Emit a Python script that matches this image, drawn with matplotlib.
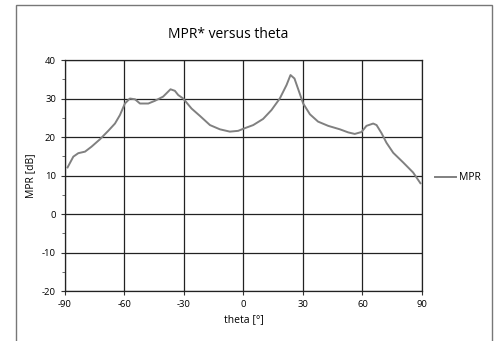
import matplotlib.pyplot as plt
from matplotlib.patches import Rectangle

# MPR curve
theta = [-88.7, -85.8, -83.3, -79.9, -76.6, -72.4, -68.2, -64.8, -62.3, -59.8,
         -57.3, -54.7, -52.2, -48.0, -44.7, -40.5, -36.8, -34.6, -32.9, -30.4,
         -26.2, -22.0, -16.9, -11.9, -6.9, -2.7, 0.7, 4.9, 9.9, 14.1,
         18.3, 21.7, 23.7, 25.7, 27.6, 30.1, 33.5, 37.6, 42.7, 48.6,
         52.8, 56.1, 59.5, 62.0, 65.4, 67.1, 69.6, 72.1, 75.5, 80.5,
         85.5, 89.2]
mpr = [12.1, 14.9, 15.8, 16.2, 17.5, 19.4, 21.6, 23.5, 25.7, 28.7,
       30.0, 29.8, 28.7, 28.7, 29.4, 30.5, 32.4, 32.0, 30.9, 30.0,
       27.4, 25.5, 23.1, 22.0, 21.4, 21.6, 22.3, 23.1, 24.7, 27.0,
       30.0, 33.5, 36.1, 35.2, 32.4, 28.7, 25.9, 24.0, 22.9, 22.0,
       21.2, 20.8, 21.3, 22.9, 23.5, 23.1, 21.0, 18.5, 15.9, 13.4,
       10.8, 8.0]

xticks = [-90, -60, -30, 0, 30, 60, 90]
yticks = [-20, -10, 0, 10, 20, 30, 40]

plt.rcParams['font.family'] = ['Open Sans', 'DejaVu Sans']
plt.rcParams['axes.unicode_minus'] = False

fig = plt.figure(figsize=(4.95, 3.41), dpi=100)
# outer chart frame
fig.patches.append(Rectangle((16 / 495, -0.1), 476 / 495, 1.1 - 5 / 341,
                             transform=fig.transFigure, fill=False,
                             edgecolor='#777777', linewidth=1.0))

ax = fig.add_axes([0.1313, 0.1466, 0.7212, 0.6774])
ax.plot(theta, mpr, color='#808080', linewidth=1.4, label='MPR')

ax.set_xlim(-90, 90)
ax.set_ylim(-20, 40)
ax.set_xticks(xticks)
ax.set_yticks(yticks)
ax.set_yticks([-15, -5, 5, 15, 25, 35], minor=True)
ax.grid(True, color='#222222', linewidth=0.9)
ax.tick_params(labelsize=6.8, length=3, width=0.8, color='#333333')
ax.tick_params(which='minor', length=2, width=0.6, color='#555555')
for s in ax.spines.values():
    s.set_color('#222222')
    s.set_linewidth(0.9)

ax.set_title('MPR* versus theta', fontsize=10, pad=16, x=0.457)
ax.set_xlabel('theta [°]', fontsize=7.5)
ax.set_ylabel('MPR [dB]', fontsize=7.5)

ax.legend(loc='center left', bbox_to_anchor=(1.01, 0.49), frameon=False,
          fontsize=7.5, handlelength=2.0, handletextpad=0.3)

fig.savefig('out.png', dpi=100)
